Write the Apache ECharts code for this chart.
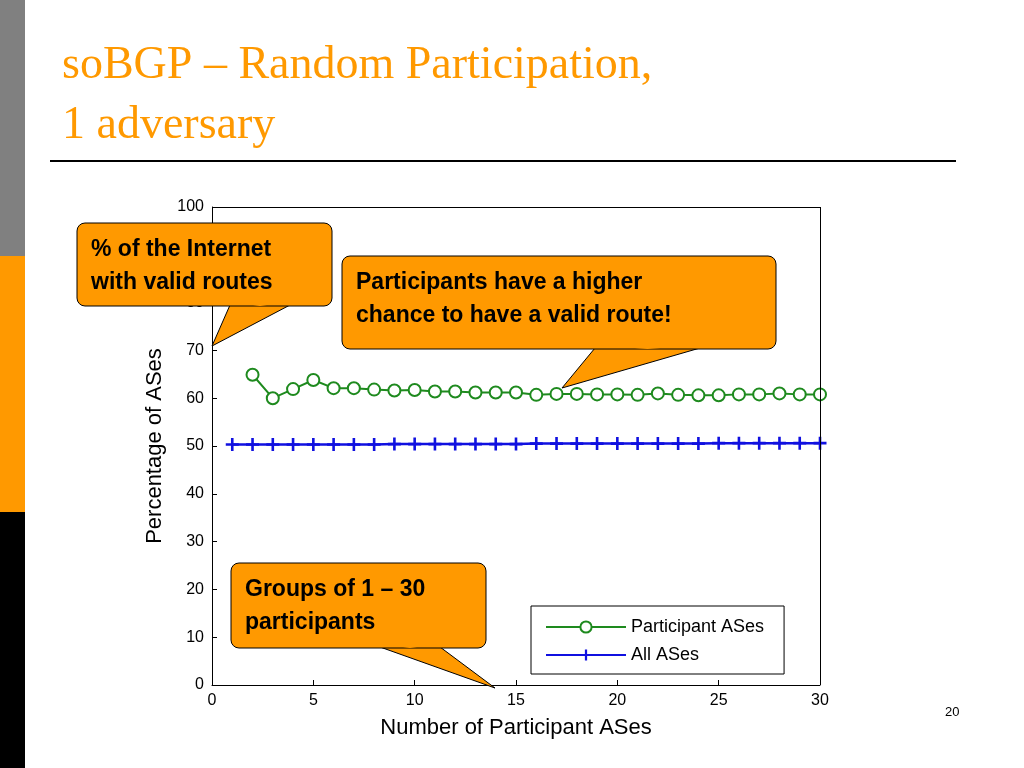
<!DOCTYPE html>
<html>
<head><meta charset="utf-8"></head>
<body style="margin:0;background:#fff">
<div id="container" style="width:1024px;height:768px"></div>
<script src="https://cdn.jsdelivr.net/npm/echarts@6/dist/echarts.min.js"></script>
<script>
var groups = [];
for (var i = 1; i <= 30; i++) groups.push(i);
var participant = [null, 64.9, 60.0, 61.9, 63.8, 62.1, 62.1, 61.8, 61.6, 61.7, 61.4, 61.4, 61.2, 61.2, 61.2,
    60.7, 60.9, 60.9, 60.8, 60.8, 60.7, 61.0, 60.7, 60.6, 60.6, 60.8, 60.8, 61.0, 60.8, 60.8];
var allAses = [50.3, 50.3, 50.3, 50.3, 50.3, 50.3, 50.3, 50.3, 50.4, 50.4, 50.4, 50.4, 50.4, 50.4, 50.4,
    50.5, 50.5, 50.5, 50.5, 50.5, 50.5, 50.5, 50.5, 50.5, 50.6, 50.6, 50.6, 50.6, 50.6, 50.6];

var orange = '#FF9900';
var plus = 'path://M4,0H6V4H10V6H6V10H4V6H0V4H4Z';

function callout(rect, tri) {
    return [
        { type: 'polygon', z: 100, shape: { points: tri }, style: { fill: orange, stroke: '#000', lineWidth: 1 } },
        { type: 'rect', z: 101, shape: { x: rect[0], y: rect[1], width: rect[2], height: rect[3], r: 8 },
          style: { fill: orange, stroke: '#000', lineWidth: 1 } },
        { type: 'polygon', z: 102, shape: { points: [[tri[0][0] + 2, tri[0][1] - 3], [tri[1][0] - 2, tri[1][1] - 3], [(tri[0][0] + tri[1][0]) / 2, tri[0][1] + 1]] },
          style: { fill: orange } }
    ];
}
function calloutText(x, y, txt) {
    return { type: 'text', z: 103, left: x, top: y,
        style: { text: txt, font: 'bold 23px "Liberation Sans", Arial', fill: '#000', lineHeight: 33 } };
}

var graphics = [
    { type: 'rect', shape: { x: 0, y: 0, width: 25, height: 256 }, style: { fill: '#808080' } },
    { type: 'rect', shape: { x: 0, y: 256, width: 25, height: 256 }, style: { fill: orange } },
    { type: 'rect', shape: { x: 0, y: 512, width: 25, height: 256 }, style: { fill: '#000' } },
    { type: 'text', left: 62, top: 36, style: { text: 'soBGP – Random Participation,\n1 adversary',
        font: '46px "Liberation Serif", "Times New Roman"', fill: orange, lineHeight: 60 } },
    { type: 'line', shape: { x1: 50, y1: 161, x2: 956, y2: 161 }, style: { stroke: '#000', lineWidth: 2 } },
    { type: 'text', left: 945, top: 706, style: { text: '20', font: '13px "Liberation Sans", Arial', fill: '#000' } }
];
graphics = graphics.concat(callout([77, 223, 255, 83], [[230, 305], [290, 305], [212, 346]]));
graphics.push(calloutText(91, 233, '% of the Internet\nwith valid routes'));
graphics = graphics.concat(callout([342, 256, 434, 93], [[595, 348], [700, 348], [562, 388]]));
graphics.push(calloutText(356, 266, 'Participants have a higher\nchance to have a valid route!'));
graphics = graphics.concat(callout([231, 563, 255, 85], [[380, 647], [440, 647], [495, 688]]));
graphics.push(calloutText(245, 573, 'Groups of 1 – 30\nparticipants'));

var chart = echarts.init(document.getElementById('container'));
chart.setOption({
    animation: false,
    graphic: graphics,
    grid: { left: 212, right: 204, top: 207, bottom: 83 },
    legend: {
        left: 531, top: 606, orient: 'vertical', itemWidth: 80, itemHeight: 14, itemGap: 10,
        padding: [12, 20, 10, 14], backgroundColor: '#fff', borderColor: '#000', borderWidth: 1,
        textStyle: { fontSize: 18, fontFamily: 'Liberation Sans', color: '#000' },
        data: ['Participant ASes', 'All ASes']
    },
    xAxis: {
        type: 'value', min: 0, max: 30, interval: 5,
        name: 'Number of Participant ASes', nameLocation: 'middle', nameGap: 32,
        nameTextStyle: { fontSize: 22, fontFamily: 'Liberation Sans', color: '#000' },
        axisLine: { lineStyle: { color: '#000' } },
        axisTick: { inside: true, lineStyle: { color: '#000' } },
        axisLabel: { fontSize: 16, color: '#000', fontFamily: 'Liberation Sans' },
        splitLine: { show: false }
    },
    yAxis: {
        type: 'value', min: 0, max: 100, interval: 10,
        name: 'Percentage of ASes', nameLocation: 'middle', nameGap: 46,
        nameTextStyle: { fontSize: 22, fontFamily: 'Liberation Sans', color: '#000' },
        axisLine: { show: true, lineStyle: { color: '#000' } },
        axisTick: { inside: true, lineStyle: { color: '#000' } },
        axisLabel: { fontSize: 16, color: '#000', fontFamily: 'Liberation Sans' },
        splitLine: { show: false }
    },
    series: [
        {
            name: 'Participant ASes', type: 'line',
            data: groups.map(function (g, i) { return [g, participant[i]]; }),
            symbol: 'emptyCircle', symbolSize: 12, color: '#1E8A1E',
            lineStyle: { width: 2 }, itemStyle: { borderWidth: 2 }
        },
        {
            name: 'All ASes', type: 'line',
            data: groups.map(function (g, i) { return [g, allAses[i]]; }),
            symbol: plus, symbolSize: 13, color: '#1010E0',
            lineStyle: { width: 2.5 }
        },
        {
            type: 'line', silent: true, data: [], markLine: { silent: true, symbol: 'none', label: { show: false },
                lineStyle: { color: '#000', type: 'solid', width: 1 },
                data: [{ yAxis: 100 }, { xAxis: 30 }] }
        }
    ]
});
</script>
</body>
</html>
